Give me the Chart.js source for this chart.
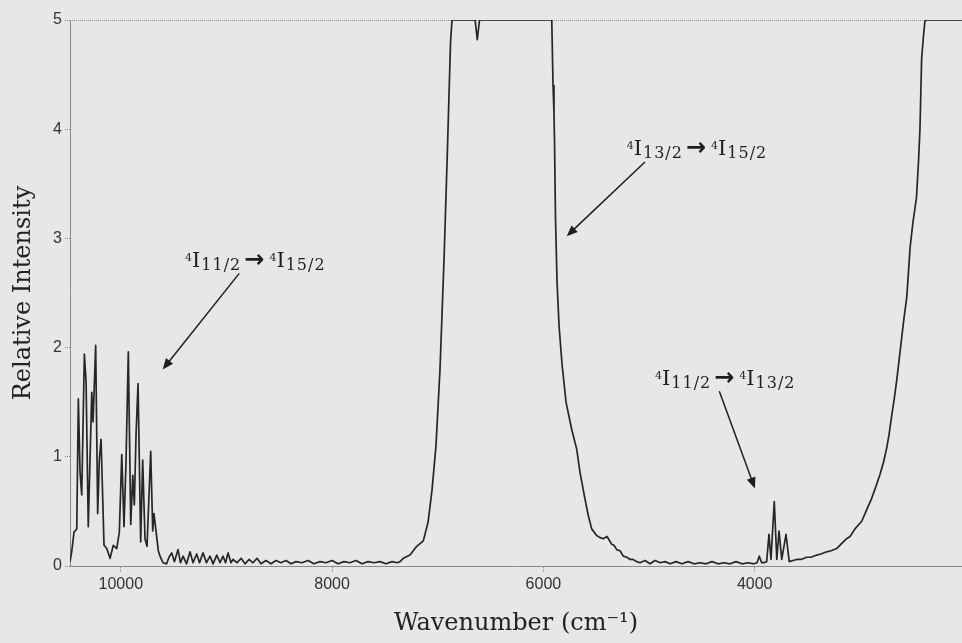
<!DOCTYPE html>
<html>
<head>
<meta charset="utf-8">
<title>Er3+ emission spectrum</title>
<script src="https://cdn.jsdelivr.net/npm/chart.js@4.4.1/dist/chart.umd.min.js"></script>
<style>
  html, body { margin: 0; padding: 0; background: #e7e7e5; }
  canvas { display: block; }
</style>
</head>
<body>
<canvas id="spectrum" width="962" height="643"></canvas>
<script>
// spectrum, high wavenumber first (left to right on the reversed axis)
const wavenumber = [
  10481, 10465, 10443, 10417, 10402, 10386, 10370, 10345, 10329, 10308,
  10275, 10263, 10238, 10219, 10203, 10187, 10173, 10159, 10133, 10102,
  10071, 10039, 10014, 9991, 9970, 9951, 9929, 9906, 9887, 9872,
  9856, 9837, 9812, 9793, 9771, 9752, 9717, 9698, 9686, 9667,
  9645, 9629, 9601, 9567, 9544, 9518, 9492, 9459, 9435, 9411,
  9378, 9345, 9317, 9282, 9255, 9222, 9189, 9156, 9127, 9092,
  9061, 9033, 9009, 8985, 8957, 8938, 8900, 8862, 8824, 8787,
  8749, 8711, 8673, 8626, 8579, 8531, 8484, 8437, 8389, 8342,
  8285, 8228, 8172, 8115, 8058, 8001, 7944, 7888, 7831, 7774,
  7717, 7660, 7604, 7547, 7490, 7433, 7386, 7357, 7326, 7263,
  7199, 7137, 7092, 7054, 7017, 6979, 6941, 6912, 6894, 6879,
  6865, 6647, 6626, 6605, 5921, 5909, 5900, 5895, 5886, 5871,
  5852, 5824, 5786, 5732, 5685, 5654, 5606, 5575, 5543, 5496,
  5464, 5433, 5398, 5354, 5332, 5306, 5275, 5244, 5209, 5180,
  5152, 5117, 5086, 5038, 4991, 4944, 4896, 4849, 4801, 4745,
  4688, 4631, 4574, 4517, 4460, 4404, 4347, 4290, 4233, 4177,
  4120, 4063, 4007, 3978, 3957, 3934, 3912, 3887, 3865, 3846,
  3815, 3791, 3770, 3744, 3704, 3673, 3638, 3602, 3562, 3508,
  3467, 3413, 3373, 3319, 3278, 3224, 3183, 3130, 3098, 3051,
  2987, 2947, 2893, 2852, 2814, 2781, 2751, 2729, 2703, 2681,
  2656, 2634, 2609, 2587, 2561, 2544, 2530, 2502, 2469, 2450,
  2436, 2420, 2403, 2389, 2370, 2038
];
const intensity = [
  0.04, 0.13, 0.31, 0.34, 1.53, 0.86, 0.65, 1.94, 1.69, 0.36,
  1.59, 1.32, 2.02, 0.48, 0.98, 1.16, 0.68, 0.19, 0.16, 0.07,
  0.19, 0.16, 0.31, 1.02, 0.36, 0.95, 1.96, 0.38, 0.83, 0.56,
  1.20, 1.67, 0.22, 0.97, 0.25, 0.18, 1.05, 0.32, 0.48, 0.32,
  0.14, 0.09, 0.03, 0.02, 0.08, 0.12, 0.04, 0.15, 0.03, 0.09,
  0.02, 0.13, 0.03, 0.11, 0.03, 0.12, 0.03, 0.09, 0.02, 0.10,
  0.03, 0.09, 0.03, 0.12, 0.03, 0.06, 0.03, 0.07, 0.02, 0.06,
  0.03, 0.07, 0.02, 0.05, 0.02, 0.05, 0.03, 0.05, 0.02, 0.04,
  0.03, 0.05, 0.02, 0.04, 0.03, 0.05, 0.02, 0.04, 0.03, 0.05,
  0.02, 0.04, 0.03, 0.04, 0.02, 0.04, 0.03, 0.04, 0.07, 0.10,
  0.18, 0.23, 0.40, 0.70, 1.10, 1.80, 2.80, 3.70, 4.30, 4.80,
  5.00, 5.00, 4.82, 5.00, 5.00, 4.40, 4.15, 3.90, 3.20, 2.60,
  2.20, 1.85, 1.50, 1.25, 1.07, 0.86, 0.61, 0.46, 0.34, 0.28,
  0.26, 0.25, 0.27, 0.20, 0.19, 0.15, 0.14, 0.09, 0.08, 0.06,
  0.06, 0.04, 0.03, 0.05, 0.02, 0.05, 0.03, 0.04, 0.02, 0.04,
  0.02, 0.04, 0.02, 0.03, 0.02, 0.04, 0.02, 0.03, 0.02, 0.04,
  0.02, 0.03, 0.02, 0.03, 0.09, 0.03, 0.03, 0.04, 0.29, 0.06,
  0.59, 0.06, 0.32, 0.06, 0.29, 0.04, 0.05, 0.06, 0.06, 0.08,
  0.08, 0.10, 0.11, 0.13, 0.14, 0.16, 0.20, 0.25, 0.27, 0.34,
  0.41, 0.50, 0.62, 0.73, 0.84, 0.95, 1.08, 1.20, 1.38, 1.52,
  1.70, 1.88, 2.09, 2.27, 2.46, 2.70, 2.91, 3.15, 3.37, 3.70,
  4.00, 4.65, 4.85, 4.99, 5.00, 5.00
];
const xTicks = [10000, 8000, 6000, 4000];
const yTicks = [0, 1, 2, 3, 4, 5];

// transitions: [upper level J, lower level J]
const transitions = [["11/2", "15/2"], ["13/2", "15/2"], ["11/2", "13/2"]];

// where each transition label sits and where its arrow points (data units)
const labelPlacement = [
  { text: [9392, 2.74], from: [8879, 2.68], to: [9604, 1.80] },
  { text: [5212, 3.76], from: [5039, 3.70], to: [5780, 3.02] },
  { text: [4944, 1.66], from: [4335, 1.60], to: [3998, 0.71] }
];

const SERIF = "'DejaVu Serif', serif";
const AXIS_GREY = "#8a8a8a";

const paper = {
  id: "paper",
  beforeDraw(chart) {
    const { ctx, width, height } = chart;
    ctx.save();
    ctx.fillStyle = "#e7e7e5";
    ctx.fillRect(0, 0, width, height);
    ctx.restore();
  },
  beforeDatasetsDraw(chart) {
    // dotted frame line along the top
    const { ctx, chartArea } = chart;
    ctx.save();
    ctx.strokeStyle = AXIS_GREY;
    ctx.lineWidth = 1;
    ctx.setLineDash([1, 1]);
    ctx.beginPath();
    ctx.moveTo(chartArea.left, chartArea.top + 0.5);
    ctx.lineTo(chartArea.right, chartArea.top + 0.5);
    ctx.stroke();
    ctx.restore();
  }
};

// ⁴I_J term symbol, returns x after the last glyph
function drawTerm(ctx, x, y, j) {
  ctx.letterSpacing = "0px";
  ctx.font = "11px " + SERIF;
  ctx.fillText("4", x, y - 6);
  x += ctx.measureText("4").width;
  ctx.font = "21px " + SERIF;
  ctx.fillText("I", x, y);
  x += ctx.measureText("I").width + 1;
  ctx.font = "16px " + SERIF;
  ctx.letterSpacing = "1px";
  ctx.fillText(j, x, y + 3);
  x += ctx.measureText(j).width;
  ctx.letterSpacing = "0px";
  return x;
}

function pointer(ctx, x1, y1, x2, y2) {
  const a = Math.atan2(y2 - y1, x2 - x1);
  const len = 11, half = 4.5;
  const c = Math.cos(a), s = Math.sin(a);
  ctx.beginPath();
  ctx.moveTo(x1, y1);
  ctx.lineTo(x2 - c * len * 0.7, y2 - s * len * 0.7);
  ctx.stroke();
  ctx.beginPath();
  ctx.moveTo(x2, y2);
  ctx.lineTo(x2 - len * c + half * s, y2 - len * s - half * c);
  ctx.lineTo(x2 - len * c - half * s, y2 - len * s + half * c);
  ctx.closePath();
  ctx.fill();
}

const transitionLabels = {
  id: "transitionLabels",
  afterDraw(chart) {
    const { ctx, scales: { x, y } } = chart;
    ctx.save();
    ctx.fillStyle = "#1e1e1e";
    ctx.strokeStyle = "#1e1e1e";
    ctx.lineWidth = 1.5;
    ctx.textBaseline = "alphabetic";
    ctx.textAlign = "left";
    transitions.forEach(([upper, lower], i) => {
      const p = labelPlacement[i];
      let tx = x.getPixelForValue(p.text[0]);
      const ty = y.getPixelForValue(p.text[1]);
      tx = drawTerm(ctx, tx, ty, upper);
      ctx.font = "bold 24px 'DejaVu Sans', sans-serif";
      ctx.fillText("→", tx + 3, ty);
      tx += 3 + ctx.measureText("→").width + 5;
      drawTerm(ctx, tx, ty, lower);
      pointer(ctx,
        x.getPixelForValue(p.from[0]), y.getPixelForValue(p.from[1]),
        x.getPixelForValue(p.to[0]), y.getPixelForValue(p.to[1]));
    });
    ctx.restore();
  }
};

new Chart(document.getElementById("spectrum"), {
  type: "line",
  data: {
    datasets: [{
      data: wavenumber.map((w, i) => ({ x: w, y: intensity[i] })),
      borderColor: "#262626",
      borderWidth: 1.7,
      borderJoinStyle: "round",
      pointRadius: 0,
      tension: 0
    }]
  },
  options: {
    responsive: false,
    animation: false,
    layout: { padding: { top: 20, right: 0, bottom: 0, left: 0 } },
    plugins: { legend: { display: false }, tooltip: { enabled: false } },
    scales: {
      x: {
        type: "linear",
        reverse: true,
        min: 2038,
        max: 10481,
        afterBuildTicks: s => { s.ticks = xTicks.map(value => ({ value })); },
        afterFit: s => { s.height = 77; },
        ticks: {
          autoSkip: false,
          maxRotation: 0,
          padding: 3,
          color: "#333",
          font: { family: "'Liberation Sans', Arial, sans-serif", size: 16 },
          callback: v => String(v)
        },
        grid: { drawOnChartArea: false, tickLength: 6, tickColor: AXIS_GREY, tickBorderDash: [1, 1] },
        border: { color: AXIS_GREY, width: 1, dash: [1, 1] },
        title: {
          display: true,
          text: "Wavenumber (cm⁻¹)",
          color: "#222",
          font: { family: SERIF, size: 24 },
          padding: { top: 0, bottom: 5 }
        }
      },
      y: {
        min: 0,
        max: 5,
        afterBuildTicks: s => { s.ticks = yTicks.map(value => ({ value })); },
        afterFit: s => { s.width = 70; },
        ticks: {
          padding: 3,
          color: "#333",
          font: { family: "'Liberation Sans', Arial, sans-serif", size: 16 },
          callback: v => String(v)
        },
        grid: { drawOnChartArea: false, tickLength: 5, tickColor: AXIS_GREY, tickBorderDash: [1, 1] },
        border: { color: AXIS_GREY, width: 1, dash: [1, 1] },
        title: {
          display: true,
          text: "Relative Intensity",
          color: "#222",
          font: { family: SERIF, size: 24 },
          padding: { top: 9, bottom: 0 }
        }
      }
    }
  },
  plugins: [paper, transitionLabels]
});
</script>
</body>
</html>
